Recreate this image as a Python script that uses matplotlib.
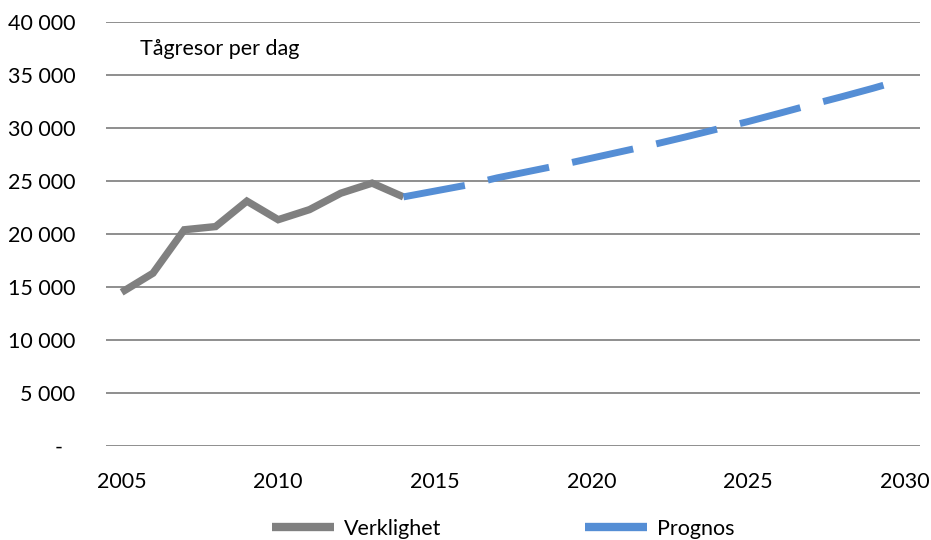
import matplotlib
matplotlib.use("Agg")
import matplotlib.pyplot as plt
import matplotlib.transforms as mtransforms
from matplotlib.lines import Line2D

plt.rcParams['font.family'] = ['Lato', 'DejaVu Sans']

# Actual train trips per day
years_actual = [2005, 2006, 2007, 2008, 2009, 2010, 2011, 2012, 2013, 2014]
trips_actual = [14500, 16300, 20400, 20700, 23100, 21350, 22300, 23850, 24800, 23500]

# Forecast
years_forecast = list(range(2014, 2031))
trips_forecast = [23500, 24050, 24600, 25300, 25900, 26500, 27150, 27800, 28450,
                  29150, 29880, 30600, 31380, 32180, 32950, 33750, 34600]

y_ticks = [0, 5000, 10000, 15000, 20000, 25000, 30000, 35000, 40000]
y_tick_labels = ['-', '5 000', '10 000', '15 000', '20 000', '25 000',
                 '30 000', '35 000', '40 000']
x_ticks = [2005, 2010, 2015, 2020, 2025, 2030]

FS = 15.5
GRAY = '#808080'
BLUE = '#558ed5'

fig = plt.figure(figsize=(9.31, 5.40), dpi=100)
ax = fig.add_axes([106/931, 1 - 446/540, (920 - 106)/931, (446 - 22)/540])

for y in y_ticks:
    ax.axhline(y, color='#868686', lw=1.3, zorder=1)

ax.plot(years_actual, trips_actual, color=GRAY, lw=5.3,
        solid_joinstyle='miter', solid_capstyle='butt', zorder=3)
ax.plot(years_forecast, trips_forecast, color=BLUE, lw=5.0,
        dashes=(9.0, 3.4), dash_capstyle='butt', zorder=3)

ax.set_xlim(2004.5, 2030.5)
ax.set_ylim(0, 40000)
ax.set_yticks(y_ticks)
ax.set_yticklabels(y_tick_labels)
ax.set_xticks(x_ticks)
ax.set_xticklabels([str(x) for x in x_ticks])
for s in ax.spines.values():
    s.set_visible(False)
ax.tick_params(axis='both', length=0, labelsize=FS, colors='black')
ax.tick_params(axis='y', pad=22)
ax.tick_params(axis='x', pad=18.5)

# the zero label sits a little to the left, like an accounting format
zero_lbl = ax.get_yticklabels()[0]
zero_lbl.set_transform(zero_lbl.get_transform() +
                       mtransforms.ScaledTranslation(-13/100, 0, fig.dpi_scale_trans))

pix = mtransforms.Affine2D().scale(1, -1).translate(0, 540)
ax.text(140, 49, 'Tågresor per dag', fontsize=FS, ha='left', va='center',
        transform=pix)

handles = [Line2D([], [], color=GRAY, lw=6.0, solid_capstyle='butt'),
           Line2D([], [], color=BLUE, lw=6.0, solid_capstyle='butt')]
fig.legend(handles, ['Verklighet', 'Prognos'], loc='center',
           bbox_to_anchor=(503/931, 1 - 529/540), ncol=2,
           frameon=False, fontsize=FS, handlelength=2.9, columnspacing=6.7,
           handletextpad=0.42, borderpad=0, borderaxespad=0)

fig.savefig('out.png', dpi=100)
